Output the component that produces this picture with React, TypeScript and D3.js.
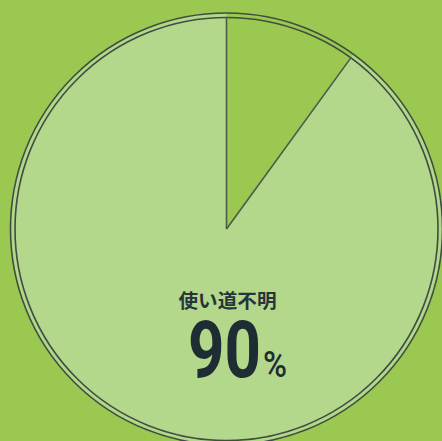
import React from "react";
import * as d3 from "d3";

const categories = ["その他", "使い道不明"];
const values = [10, 90];
const labelText = "使い道不明";
const valueLabel = "90";
const unitLabel = "%";

const W = 442;
const H = 441;
const cx = 226.5;
const cy = 229;
const R = 216;
const Rin = 211.5;

const colors = ["#9bc850", "#b3d78b"];

export default function App() {
  const pie = d3.pie<number>().sort(null).startAngle(0).endAngle(2 * Math.PI);
  const arcs = pie(values);
  const arcGen = d3.arc<d3.PieArcDatum<number>>().innerRadius(0).outerRadius(R);
  const lineGen = d3.arc<d3.PieArcDatum<number>>().innerRadius(0).outerRadius(Rin);
  const first = arcs[0];
  const radial = (a: number, r: number) => [Math.sin(a) * r, -Math.cos(a) * r];
  const p0 = radial(first.startAngle, Rin);
  const p1 = radial(first.endAngle, Rin);
  return (
    <svg
      width={W}
      height={H}
      style={{ position: "absolute", left: 0, top: 0, display: "block" }}
    >
      <rect x={0} y={0} width={W} height={H} fill="#9bc850" />
      <g transform={`translate(${cx},${cy})`}>
        {arcs.map((a, i) => (
          <path key={categories[i]} d={arcGen(a) || ""} fill={colors[i]} />
        ))}
        <circle r={R} fill="none" stroke="#3f4e40" strokeWidth={1.6} />
        <circle r={Rin} fill="none" stroke="#3f4e40" strokeWidth={1.6} />
        <line x1={0} y1={0} x2={p0[0]} y2={p0[1]} stroke="#4a5a4a" strokeWidth={1.6} />
        <line x1={0} y1={0} x2={p1[0]} y2={p1[1]} stroke="#4a5a4a" strokeWidth={1.6} />
      </g>
      <text
        x={227.5}
        y={299}
        textAnchor="middle"
        dominantBaseline="central"
        fontFamily="'Noto Sans CJK JP', sans-serif"
        fontWeight={700}
        fontSize={19}
        fill="#27343a"
        textLength={98}
        lengthAdjust="spacingAndGlyphs"
      >
        {labelText}
      </text>
      <text
        x={188}
        y={377}
        fontFamily="Roboto, sans-serif"
        fontWeight={700}
        fontSize={80}
        fill="#1e2d33"
        textLength={73}
        lengthAdjust="spacingAndGlyphs"
      >
        {valueLabel}
      </text>
      <text
        x={263}
        y={377}
        fontFamily="Roboto, sans-serif"
        fontWeight={500}
        fontSize={36}
        fill="#1e2d33"
        textLength={24}
        lengthAdjust="spacingAndGlyphs"
      >
        {unitLabel}
      </text>
    </svg>
  );
}
